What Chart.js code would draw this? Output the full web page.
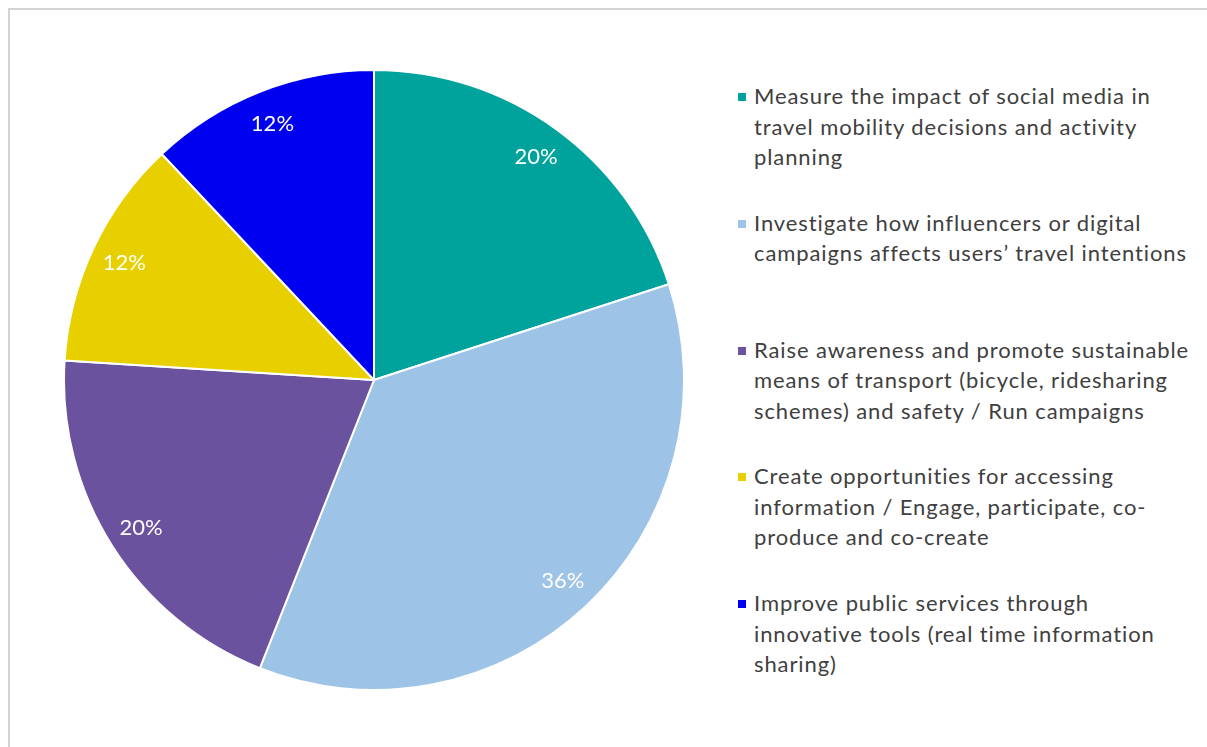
<!DOCTYPE html>
<html>
<head>
<meta charset="utf-8">
<script src="https://cdn.jsdelivr.net/npm/chart.js@4.4.1/dist/chart.umd.min.js"></script>
<style>
  html, body { margin: 0; padding: 0; background: #fff; overflow: hidden; }
  body { width: 1207px; height: 747px; position: relative; }
  .frame {
    position: absolute; left: 8px; top: 8px; width: 1300px; height: 800px;
    border: 2px solid #d2d2d2; box-sizing: border-box;
  }
  #pieWrap { position: absolute; left: 63px; top: 69px; width: 622px; height: 622px; }
  #legenda {
    position: absolute; left: 738px; top: 81px;
    font-family: Lato, "Open Sans", sans-serif; font-size: 22px; letter-spacing: 0.9px; color: #404040;
  }
  .item { height: 126.75px; display: flex; align-items: flex-start; }
  .marca { width: 8px; height: 8px; margin-top: 12px; margin-right: 8px; flex: none; }
  .texto { line-height: 30.5px; white-space: nowrap; }
</style>
</head>
<body>
<div class="frame"></div>
<div id="pieWrap"><canvas id="GraficoPizza"></canvas></div>
<div id="legenda"></div>

<script>
const categorias = [
  ["Measure the impact of social media in", "travel mobility decisions and activity", "planning"],
  ["Investigate how influencers or digital", "campaigns affects users\u2019 travel intentions"],
  ["Raise awareness and promote sustainable", "means of transport (bicycle, ridesharing", "schemes) and safety / Run campaigns"],
  ["Create opportunities for accessing", "information / Engage, participate, co-", "produce and co-create"],
  ["Improve public services through", "innovative tools (real time information", "sharing)"]
];

const percentuais = [20, 36, 20, 12, 12];

const cores = ["#00A39B", "#9DC3E6", "#6A529E", "#E8D000", "#0000F0"];

// escreve o valor de cada fatia perto da borda externa
const rotulosFatias = {
  id: 'rotulosFatias',
  afterDatasetsDraw(chart) {
    const ctx = chart.ctx;
    const meta = chart.getDatasetMeta(0);
    ctx.save();
    ctx.fillStyle = '#ffffff';
    ctx.font = '22px Lato, "Open Sans", sans-serif';
    ctx.textAlign = 'center';
    ctx.textBaseline = 'middle';
    meta.data.forEach((arc, i) => {
      const p = arc.getProps(['x', 'y', 'startAngle', 'endAngle', 'outerRadius'], true);
      const meio = (p.startAngle + p.endAngle) / 2;
      const r = p.outerRadius * 0.89;
      ctx.fillText(percentuais[i] + '%', p.x + Math.cos(meio) * r, p.y + Math.sin(meio) * r);
    });
    ctx.restore();
  }
};

function criarGrafico() {
  const ctx = document.getElementById('GraficoPizza').getContext('2d');
  new Chart(ctx, {
    type: 'pie',
    data: {
      labels: categorias,
      datasets: [{
        data: percentuais,
        backgroundColor: cores,
        borderColor: '#ffffff',
        borderWidth: 2
      }]
    },
    options: {
      responsive: true,
      maintainAspectRatio: false,
      animation: false,
      layout: { padding: 0 },
      plugins: {
        legend: { display: false },
        tooltip: { enabled: false }
      }
    },
    plugins: [rotulosFatias]
  });
}

function montarLegenda() {
  const legenda = document.getElementById('legenda');
  categorias.forEach((linhas, i) => {
    const item = document.createElement('div');
    item.className = 'item';
    const marca = document.createElement('div');
    marca.className = 'marca';
    marca.style.background = cores[i];
    const texto = document.createElement('div');
    texto.className = 'texto';
    texto.innerHTML = linhas.join('<br>');
    item.appendChild(marca);
    item.appendChild(texto);
    legenda.appendChild(item);
  });
}

document.addEventListener("DOMContentLoaded", function () {
  criarGrafico();
  montarLegenda();
});
</script>
</body>
</html>
